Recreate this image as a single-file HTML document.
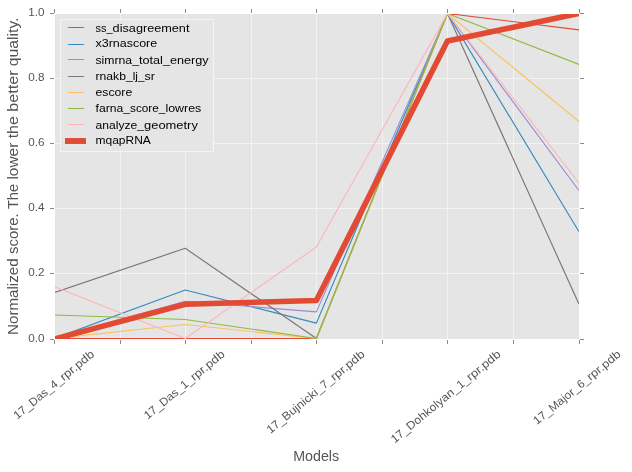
<!DOCTYPE html>
<html><head><meta charset="utf-8"><title>plot</title>
<style>html,body{margin:0;padding:0;background:#fff;}svg{display:block;will-change:transform;}text{font-family:"Liberation Sans",sans-serif;}</style></head><body>
<svg width="632" height="472" viewBox="0 0 632 472">
<rect x="0" y="0" width="632" height="472" fill="#ffffff"/>
<rect x="55" y="14" width="524" height="325" fill="#E5E5E5"/>
<g fill="#F3F3F3" shape-rendering="crispEdges">
<rect x="120" y="14" width="1" height="325"/>
<rect x="185" y="14" width="1" height="325"/>
<rect x="251" y="14" width="1" height="325"/>
<rect x="316" y="14" width="1" height="325"/>
<rect x="382" y="14" width="1" height="325"/>
<rect x="447" y="14" width="1" height="325"/>
<rect x="513" y="14" width="1" height="325"/>
<rect x="55" y="78" width="524" height="1"/>
<rect x="55" y="143" width="524" height="1"/>
<rect x="55" y="208" width="524" height="1"/>
<rect x="55" y="273" width="524" height="1"/>
</g>
<defs><clipPath id="c"><rect x="55" y="14" width="524" height="325"/></clipPath></defs>
<g clip-path="url(#c)" fill="none" stroke-linejoin="round" stroke-linecap="square">
<polyline points="54.15,338.45 185.25,338.45 316.35,338.45 447.45,13.50 578.55,29.74" stroke="#E24A33" stroke-width="1.15"/>
<polyline points="54.15,338.45 185.25,290.01 316.35,323.12 447.45,13.50 578.55,231.00" stroke="#348ABD" stroke-width="1.15"/>
<polyline points="54.15,338.45 185.25,301.24 316.35,311.89 447.45,13.50 578.55,189.99" stroke="#988ED5" stroke-width="1.15"/>
<polyline points="54.15,292.62 185.25,248.28 316.35,338.45 447.45,13.50 578.55,303.26" stroke="#777777" stroke-width="1.15"/>
<polyline points="54.15,338.45 185.25,324.52 316.35,338.45 447.45,13.50 578.55,121.24" stroke="#FBC15E" stroke-width="1.15"/>
<polyline points="54.15,315.01 185.25,319.50 316.35,338.45 447.45,13.50 578.55,64.28" stroke="#8EBA42" stroke-width="1.15"/>
<polyline points="54.15,286.50 185.25,338.45 316.35,247.05 447.45,13.50 578.55,182.50" stroke="#FFB5B8" stroke-width="1.15"/>
<polyline points="54.15,339.00 185.25,304.24 316.35,300.49 447.45,41.00 578.55,13.50" stroke="#E24A33" stroke-width="5.6"/>
</g>
<g fill="#8A8A8A" shape-rendering="crispEdges">
<rect x="54" y="340" width="1" height="4"/>
<rect x="54" y="9" width="1" height="4"/>
<rect x="120" y="340" width="1" height="4"/>
<rect x="120" y="9" width="1" height="4"/>
<rect x="185" y="340" width="1" height="4"/>
<rect x="185" y="9" width="1" height="4"/>
<rect x="251" y="340" width="1" height="4"/>
<rect x="251" y="9" width="1" height="4"/>
<rect x="316" y="340" width="1" height="4"/>
<rect x="316" y="9" width="1" height="4"/>
<rect x="382" y="340" width="1" height="4"/>
<rect x="382" y="9" width="1" height="4"/>
<rect x="447" y="340" width="1" height="4"/>
<rect x="447" y="9" width="1" height="4"/>
<rect x="513" y="340" width="1" height="4"/>
<rect x="513" y="9" width="1" height="4"/>
<rect x="579" y="340" width="1" height="4"/>
<rect x="579" y="9" width="1" height="4"/>
<rect x="50" y="13" width="4" height="1"/>
<rect x="580" y="13" width="4" height="1"/>
<rect x="50" y="78" width="4" height="1"/>
<rect x="580" y="78" width="4" height="1"/>
<rect x="50" y="143" width="4" height="1"/>
<rect x="580" y="143" width="4" height="1"/>
<rect x="50" y="208" width="4" height="1"/>
<rect x="580" y="208" width="4" height="1"/>
<rect x="50" y="273" width="4" height="1"/>
<rect x="580" y="273" width="4" height="1"/>
<rect x="50" y="339" width="4" height="1"/>
<rect x="580" y="339" width="4" height="1"/>
</g>
<g fill="#555555" font-size="11.4" text-anchor="end">
<text x="44.6" y="16.0" textLength="16.3" lengthAdjust="spacingAndGlyphs">1.0</text>
<text x="44.6" y="81.0" textLength="16.3" lengthAdjust="spacingAndGlyphs">0.8</text>
<text x="44.6" y="146.0" textLength="16.3" lengthAdjust="spacingAndGlyphs">0.6</text>
<text x="44.6" y="211.0" textLength="16.3" lengthAdjust="spacingAndGlyphs">0.4</text>
<text x="44.6" y="276.0" textLength="16.3" lengthAdjust="spacingAndGlyphs">0.2</text>
<text x="44.6" y="342.0" textLength="16.3" lengthAdjust="spacingAndGlyphs">0.0</text>
</g>
<g fill="#555555" font-size="11.4">
<text transform="translate(95.0,355.5) rotate(-39.5)"><tspan x="-100.88" y="0" textLength="20.09" lengthAdjust="spacingAndGlyphs">17_</tspan><tspan x="-80.79" y="0" textLength="27.25" lengthAdjust="spacingAndGlyphs">Das_</tspan><tspan x="-53.54" y="0" textLength="12.88" lengthAdjust="spacingAndGlyphs">4_</tspan><tspan x="-40.66" y="0" textLength="40.66" lengthAdjust="spacingAndGlyphs">rpr.pdb</tspan></text>
<text transform="translate(225.5,355.5) rotate(-39.5)"><tspan x="-100.88" y="0" textLength="20.09" lengthAdjust="spacingAndGlyphs">17_</tspan><tspan x="-80.79" y="0" textLength="27.25" lengthAdjust="spacingAndGlyphs">Das_</tspan><tspan x="-53.54" y="0" textLength="12.88" lengthAdjust="spacingAndGlyphs">1_</tspan><tspan x="-40.66" y="0" textLength="40.66" lengthAdjust="spacingAndGlyphs">rpr.pdb</tspan></text>
<text transform="translate(365.5,355.5) rotate(-39.5)"><tspan x="-123.24" y="0" textLength="20.02" lengthAdjust="spacingAndGlyphs">17_</tspan><tspan x="-103.22" y="0" textLength="49.87" lengthAdjust="spacingAndGlyphs">Bujnicki_</tspan><tspan x="-53.35" y="0" textLength="12.83" lengthAdjust="spacingAndGlyphs">7_</tspan><tspan x="-40.52" y="0" textLength="40.52" lengthAdjust="spacingAndGlyphs">rpr.pdb</tspan></text>
<text transform="translate(501.5,355.5) rotate(-39.5)"><tspan x="-138.47" y="0" textLength="19.98" lengthAdjust="spacingAndGlyphs">17_</tspan><tspan x="-118.49" y="0" textLength="65.24" lengthAdjust="spacingAndGlyphs">Dohkolyan_</tspan><tspan x="-53.25" y="0" textLength="12.81" lengthAdjust="spacingAndGlyphs">1_</tspan><tspan x="-40.44" y="0" textLength="40.44" lengthAdjust="spacingAndGlyphs">rpr.pdb</tspan></text>
<text transform="translate(621.5,355.5) rotate(-39.5)"><tspan x="-109.38" y="0" textLength="19.84" lengthAdjust="spacingAndGlyphs">17_</tspan><tspan x="-89.54" y="0" textLength="36.67" lengthAdjust="spacingAndGlyphs">Major_</tspan><tspan x="-52.87" y="0" textLength="12.72" lengthAdjust="spacingAndGlyphs">6_</tspan><tspan x="-40.15" y="0" textLength="40.15" lengthAdjust="spacingAndGlyphs">rpr.pdb</tspan></text>
</g>
<text x="316.2" y="461" font-size="14" fill="#555555" text-anchor="middle" textLength="46.0" lengthAdjust="spacingAndGlyphs">Models</text>
<text transform="translate(18.3,176.25) rotate(-90)" font-size="14" fill="#555555"><tspan x="-158.75" y="0" textLength="76.70" lengthAdjust="spacingAndGlyphs">Normalized</tspan><tspan x="-77.75" y="0" textLength="40.64" lengthAdjust="spacingAndGlyphs">score.</tspan><tspan x="-32.81" y="0" textLength="25.15" lengthAdjust="spacingAndGlyphs">The</tspan><tspan x="-3.35" y="0" textLength="36.98" lengthAdjust="spacingAndGlyphs">lower</tspan><tspan x="37.92" y="0" textLength="22.20" lengthAdjust="spacingAndGlyphs">the</tspan><tspan x="64.42" y="0" textLength="41.40" lengthAdjust="spacingAndGlyphs">better</tspan><tspan x="110.11" y="0" textLength="48.64" lengthAdjust="spacingAndGlyphs">quality.</tspan></text>
<rect x="60.5" y="19.5" width="153" height="132" fill="#E5E5E5" stroke="#F4F4F4" stroke-width="1"/>
<g shape-rendering="crispEdges">
<rect x="68" y="27.0" width="16" height="1" fill="#E24A33"/>
<rect x="68" y="44.0" width="16" height="1" fill="#348ABD"/>
<rect x="68" y="59.0" width="16" height="1" fill="#988ED5"/>
<rect x="68" y="76.0" width="16" height="1" fill="#777777"/>
<rect x="68" y="92.0" width="16" height="1" fill="#FBC15E"/>
<rect x="68" y="108.0" width="16" height="1" fill="#8EBA42"/>
<rect x="68" y="124.0" width="16" height="1" fill="#FFB5B8"/>
<rect x="65" y="138.05" width="21" height="5.9" fill="#E24A33" shape-rendering="geometricPrecision"/>
</g>
<g fill="#000000" font-size="11.4">
<text><tspan x="95.50" y="31.5" textLength="17.13" lengthAdjust="spacingAndGlyphs">ss_</tspan><tspan x="112.63" y="31.5" textLength="76.84" lengthAdjust="spacingAndGlyphs">disagreement</tspan></text>
<text><tspan x="95.50" y="47" textLength="61.72" lengthAdjust="spacingAndGlyphs">x3rnascore</tspan></text>
<text><tspan x="95.50" y="63.5" textLength="43.47" lengthAdjust="spacingAndGlyphs">simrna_</tspan><tspan x="138.97" y="63.5" textLength="30.96" lengthAdjust="spacingAndGlyphs">total_</tspan><tspan x="169.93" y="63.5" textLength="38.72" lengthAdjust="spacingAndGlyphs">energy</tspan></text>
<text><tspan x="95.50" y="80" textLength="37.27" lengthAdjust="spacingAndGlyphs">rnakb_</tspan><tspan x="132.77" y="80" textLength="11.73" lengthAdjust="spacingAndGlyphs">lj_</tspan><tspan x="144.49" y="80" textLength="10.36" lengthAdjust="spacingAndGlyphs">sr</tspan></text>
<text><tspan x="95.50" y="95.5" textLength="36.69" lengthAdjust="spacingAndGlyphs">escore</tspan></text>
<text><tspan x="95.50" y="112" textLength="34.50" lengthAdjust="spacingAndGlyphs">farna_</tspan><tspan x="130.00" y="112" textLength="35.41" lengthAdjust="spacingAndGlyphs">score_</tspan><tspan x="165.40" y="112" textLength="35.92" lengthAdjust="spacingAndGlyphs">lowres</tspan></text>
<text><tspan x="95.50" y="128.5" textLength="48.54" lengthAdjust="spacingAndGlyphs">analyze_</tspan><tspan x="144.04" y="128.5" textLength="53.85" lengthAdjust="spacingAndGlyphs">geometry</tspan></text>
<text><tspan x="95.50" y="143.5" textLength="55.37" lengthAdjust="spacingAndGlyphs">mqapRNA</tspan></text>
</g>
</svg></body></html>
